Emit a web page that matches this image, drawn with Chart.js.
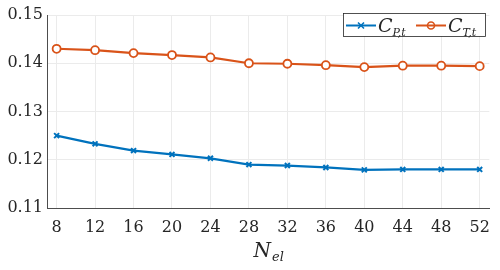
<!DOCTYPE html>
<html>
<head>
<meta charset="utf-8">
<script src="https://cdn.jsdelivr.net/npm/chart.js@4/dist/chart.umd.min.js"></script>
<style>
  html, body { margin: 0; padding: 0; background: #fff; }
  #wrap { width: 500px; height: 270px; }
</style>
</head>
<body>
<div id="wrap"><canvas id="chart" width="500" height="270"></canvas></div>
<script>
// data
const nel = [8, 12, 16, 20, 24, 28, 32, 36, 40, 44, 48, 52];
const cpValues = [0.1250, 0.1233, 0.1219, 0.1211, 0.1203, 0.1190, 0.1188, 0.1184, 0.1179, 0.1180, 0.1180, 0.1180];
const ctValues = [0.1430, 0.1427, 0.1421, 0.1417, 0.1412, 0.1400, 0.1399, 0.1396, 0.1392, 0.1395, 0.1395, 0.1394];
const yTicks = [0.11, 0.12, 0.13, 0.14, 0.15];

const BLUE = '#0072BD';
const ORANGE = '#D95319';
const SERIF = '"DejaVu Serif", "Liberation Serif", serif';

// legend + axis title with subscripts
const mathText = {
    id: 'mathText',
    afterDraw(chart) {
        const ctx = chart.ctx;
        const area = chart.chartArea;
        ctx.save();
        ctx.fillStyle = '#262626';
        ctx.textBaseline = 'alphabetic';

        // x axis title N_el
        ctx.font = 'italic 20px ' + SERIF;
        const cx = (area.left + area.right) / 2;
        const wN = ctx.measureText('N').width;
        ctx.font = 'italic 13px ' + SERIF;
        const wSub = ctx.measureText('el').width;
        const x0 = cx - (wN + wSub) / 2;
        ctx.font = 'italic 20px ' + SERIF;
        ctx.fillText('N', x0, 257);
        ctx.font = 'italic 13px ' + SERIF;
        ctx.fillText('el', x0 + wN + 1, 261);

        // legend box
        const bx = 343, by = 13, bw = 142, bh = 23;
        ctx.fillStyle = '#fff';
        ctx.fillRect(bx, by, bw, bh);
        ctx.strokeStyle = '#262626';
        ctx.lineWidth = 0.8;
        ctx.strokeRect(bx + 0.5, by + 0.5, bw, bh);

        const items = [
            { x: bx + 3, color: BLUE, sub: 'P,t', marker: 'x' },
            { x: bx + 73, color: ORANGE, sub: 'T,t', marker: 'o' }
        ];
        const ly = by + bh / 2 + 1;
        items.forEach(it => {
            ctx.strokeStyle = it.color;
            ctx.lineWidth = 2;
            ctx.beginPath();
            ctx.moveTo(it.x, ly);
            ctx.lineTo(it.x + 30, ly);
            ctx.stroke();
            const mx = it.x + 15;
            ctx.lineWidth = 1.6;
            ctx.beginPath();
            if (it.marker === 'x') {
                ctx.moveTo(mx - 3, ly - 3); ctx.lineTo(mx + 3, ly + 3);
                ctx.moveTo(mx - 3, ly + 3); ctx.lineTo(mx + 3, ly - 3);
            } else {
                ctx.arc(mx, ly, 3.5, 0, Math.PI * 2);
            }
            ctx.stroke();
            ctx.fillStyle = '#262626';
            ctx.font = 'italic 19px ' + SERIF;
            ctx.fillText('C', it.x + 32, ly + 6);
            const wc = ctx.measureText('C').width;
            ctx.font = 'italic 11px ' + SERIF;
            ctx.fillText(it.sub, it.x + 32 + wc, ly + 10);
        });
        ctx.restore();
    }
};

new Chart(document.getElementById('chart'), {
    type: 'line',
    data: {
        datasets: [
            {
                label: 'C_P,t',
                data: nel.map((n, i) => ({ x: n, y: cpValues[i] })),
                borderColor: BLUE,
                backgroundColor: BLUE,
                borderWidth: 2.2,
                pointStyle: 'crossRot',
                pointRadius: 3.5,
                pointBorderWidth: 2,
                tension: 0
            },
            {
                label: 'C_T,t',
                data: nel.map((n, i) => ({ x: n, y: ctValues[i] })),
                borderColor: ORANGE,
                backgroundColor: '#ffffff',
                borderWidth: 2.2,
                pointStyle: 'circle',
                pointRadius: 4,
                pointBorderWidth: 1.8,
                tension: 0
            }
        ]
    },
    options: {
        responsive: false,
        animation: false,
        layout: { padding: { top: 15, right: 5, left: 0, bottom: 0 } },
        plugins: {
            legend: { display: false },
            tooltip: { enabled: false }
        },
        scales: {
            x: {
                type: 'linear',
                min: 7,
                max: 53,
                afterBuildTicks: axis => { axis.ticks = nel.map(v => ({ value: v })); },
                afterFit: axis => { axis.height = 62; },
                grid: { color: '#ebebeb', lineWidth: 1, tickLength: 0 },
                border: { color: '#4d4d4d', width: 1 },
                ticks: {
                    color: '#262626',
                    font: { family: SERIF, size: 16 },
                    padding: 10,
                    maxRotation: 0
                }
            },
            y: {
                min: 0.11,
                max: 0.15,
                afterBuildTicks: axis => { axis.ticks = yTicks.map(v => ({ value: v })); },
                afterFit: axis => { axis.width = 47; },
                grid: { color: '#ebebeb', lineWidth: 1, tickLength: 0 },
                border: { color: '#4d4d4d', width: 1 },
                ticks: {
                    color: '#262626',
                    font: { family: SERIF, size: 16 },
                    padding: 4,
                    callback: v => v.toFixed(2)
                }
            }
        }
    },
    plugins: [mathText]
});
</script>
</body>
</html>
